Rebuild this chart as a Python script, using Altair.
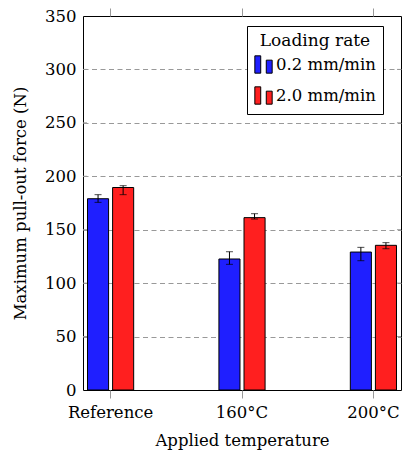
import altair as alt
import pandas as pd

categories = ["Reference", "160°C", "200°C"]
rates = ["0.2 mm/min", "2.0 mm/min"]
values_02 = [179.0, 122.6, 129.1]
lo_02 = [175.6, 117.6, 121.0]
hi_02 = [182.8, 129.4, 133.5]
values_20 = [189.5, 161.3, 135.4]
lo_20 = [182.8, 160.0, 132.2]
hi_20 = [191.2, 165.0, 137.9]
y_ticks = [0, 50, 100, 150, 200, 250, 300, 350]
colors = ["#1f1fff", "#ff1f1f"]

rows = []
for i, c in enumerate(categories):
    rows.append({"cat": c, "rate": rates[0], "v": values_02[i], "lo": lo_02[i], "hi": hi_02[i]})
    rows.append({"cat": c, "rate": rates[1], "v": values_20[i], "lo": lo_20[i], "hi": hi_20[i]})
df = pd.DataFrame(rows)
tick_df = pd.DataFrame({"t": y_ticks[1:-1]})

FONT = "DejaVu Serif"
FS = 16.5
W, H = 318, 374

xscale = alt.Scale(domain=categories, paddingInner=0.58, paddingOuter=0)
xoff_scale = alt.Scale(domain=rates, paddingInner=0.16, paddingOuter=0.18)
yscale = alt.Scale(domain=[0, 350], nice=False, zero=True)


def xenc():
    return alt.X("cat:N", scale=xscale, sort=categories, axis=None)


def xoff():
    return alt.XOffset("rate:N", scale=xoff_scale, sort=rates)


bars = alt.Chart(df).mark_bar(stroke="black", strokeWidth=1).encode(
    x=alt.X("cat:N", scale=xscale, sort=categories,
            axis=alt.Axis(title="Applied temperature", orient="bottom", labelAngle=0,
                          domain=False, tickColor="#999999", tickSize=8, tickWidth=1,
                          labelPadding=6, titlePadding=12)),
    xOffset=xoff(),
    y=alt.Y("v:Q", scale=yscale,
            axis=alt.Axis(title="Maximum pull-out force (N)", values=y_ticks, domain=False,
                          ticks=False, grid=True, gridColor="#999999", gridDash=[5, 3.5],
                          gridWidth=1,
                          gridOpacity={"condition": {"test": "datum.value === 0 || datum.value === 350",
                                                     "value": 0}, "value": 1},
                          labelPadding=7, titlePadding=16)),
    color=alt.Color("rate:N", scale=alt.Scale(domain=rates, range=colors), sort=rates,
                    legend=alt.Legend(title="Loading rate", orient="none", legendX=164, legendY=10,
                                      strokeColor="black", fillColor="white", padding=7,
                                      titleAnchor="middle", titlePadding=5, rowPadding=8,
                                      symbolType="M-1,-1H-0.32V1H-1Z M0.32,-0.5H1V1H0.32Z",
                                      symbolSize=300, symbolStrokeColor="black",
                                      symbolStrokeWidth=1, labelOffset=3)),
)

top_axis = alt.Chart(df).mark_rule(opacity=0).encode(
    x=alt.X("cat:N", scale=xscale, sort=categories,
            axis=alt.Axis(title=None, orient="top", labels=False, domain=False,
                          tickColor="#999999", tickSize=8, tickWidth=1)),
    y=alt.Y("v:Q", scale=yscale),
)

err = alt.Chart(df).mark_rule(color="black", strokeWidth=1).encode(
    x=xenc(), xOffset=xoff(),
    y=alt.Y("lo:Q", scale=yscale),
    y2="hi:Q",
)
cap_lo = alt.Chart(df).mark_tick(color="black", thickness=1, size=7, orient="horizontal").encode(
    x=xenc(), xOffset=xoff(),
    y=alt.Y("lo:Q", scale=yscale),
)
cap_hi = alt.Chart(df).mark_tick(color="black", thickness=1, size=7, orient="horizontal").encode(
    x=xenc(), xOffset=xoff(),
    y=alt.Y("hi:Q", scale=yscale),
)

in_left = alt.Chart(tick_df).mark_rule(color="#999999", strokeWidth=1).encode(
    x=alt.value(0), x2=alt.value(4), y=alt.Y("t:Q", scale=yscale))
in_right = alt.Chart(tick_df).mark_rule(color="#999999", strokeWidth=1).encode(
    x=alt.value(W - 4), x2=alt.value(W), y=alt.Y("t:Q", scale=yscale))

chart = alt.layer(bars, in_left, in_right, err, cap_lo, cap_hi, top_axis).resolve_axis(
    x="independent"
).properties(
    width=W, height=H,
    autosize=alt.AutoSizeParams(type="none"),
    padding={"left": 83, "top": 16, "right": 2, "bottom": 64},
).configure_view(
    stroke="black", strokeWidth=1
).configure_axis(
    labelFont=FONT, labelFontSize=FS, labelColor="black",
    titleFont=FONT, titleFontSize=FS, titleFontWeight="normal", titleColor="black",
).configure_legend(
    titleFont=FONT, titleFontSize=FS + 0.5, titleFontWeight="normal", titleColor="black",
    labelFont=FONT, labelFontSize=FS, labelColor="black",
)

chart.save("out.html", embed_options={"renderer": "svg", "actions": False})
